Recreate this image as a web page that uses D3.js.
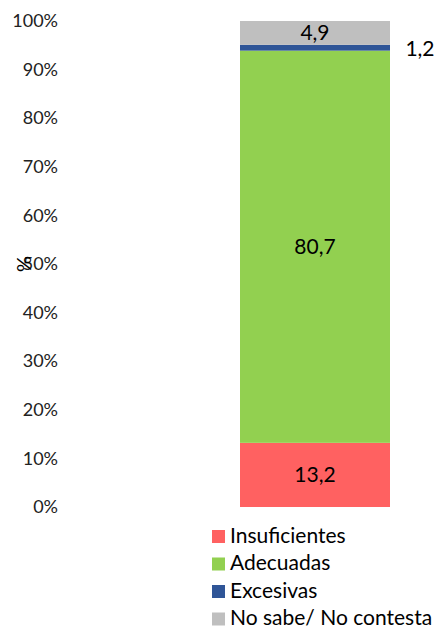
<!DOCTYPE html>
<html lang="en">
    <head>
        <meta charset="utf-8">
        <title>Stacked bar</title>
        <script src="https://d3js.org/d3.v7.min.js"></script>
        <style type="text/css">
            body { margin: 0; background: white; }
            .axis text { font-family: Lato, sans-serif; font-size: 18px; fill: #222; }
            .lbl { font-family: Lato, sans-serif; font-size: 21px; fill: black; }
            .legend text { font-family: Lato, sans-serif; font-size: 21px; fill: black; }
        </style>
    </head>
    <body>
        <script type="text/javascript">

            const w = 443;
            const h = 631;

            // data
            const categories = ["Insuficientes", "Adecuadas", "Excesivas", "No sabe/ No contesta"];
            const values = [13.2, 80.7, 1.2, 4.9];
            const colors = ["#FF6161", "#92D050", "#2F5597", "#BFBFBF"];
            const yTicks = [0, 10, 20, 30, 40, 50, 60, 70, 80, 90, 100];

            const svg = d3.select("body")
                .append("svg")
                .attr("width", w)
                .attr("height", h);

            const yScale = d3.scaleLinear()
                .domain([0, 100])
                .range([507, 21]);

            // left axis, labels only
            const leftAxis = d3.axisLeft(yScale)
                .tickValues(yTicks)
                .tickSize(0)
                .tickPadding(0)
                .tickFormat(d => d + "%");

            svg.append("g")
                .attr("class", "axis")
                .attr("transform", "translate(58,0)")
                .call(leftAxis)
                .call(g => g.select(".domain").remove());

            // y title overlapping 50%
            svg.append("text")
                .attr("transform", "translate(24," + yScale(50) + ") rotate(-90)")
                .attr("text-anchor", "middle")
                .attr("dy", "0.35em")
                .style("font-family", "Lato, sans-serif")
                .style("font-size", "20px")
                .text("%");

            // stacked segments
            let cum = 0;
            const segs = values.map((v, i) => {
                const s = { name: categories[i], v: v, y0: cum, y1: cum + v, color: colors[i] };
                cum += v;
                return s;
            });

            const barX = 240, barW = 150;

            svg.selectAll(".seg")
                .data(segs)
                .join("rect")
                .attr("class", "seg")
                .attr("x", barX)
                .attr("width", barW)
                .attr("y", d => yScale(d.y1))
                .attr("height", d => yScale(d.y0) - yScale(d.y1))
                .attr("fill", d => d.color);

            const fmt = v => String(v).replace(".", ",");

            svg.selectAll(".lbl")
                .data(segs)
                .join("text")
                .attr("class", "lbl")
                .attr("text-anchor", "middle")
                .attr("dy", "0.35em")
                .attr("x", d => d.name === "Excesivas" ? 420 : barX + barW / 2)
                .attr("y", d => d.name === "Excesivas" ? yScale(d.y1) + 4 : yScale((d.y0 + d.y1) / 2))
                .text(d => fmt(d.v));

            // legend
            const legend = svg.append("g").attr("class", "legend");
            const rows = legend.selectAll("g")
                .data(categories)
                .join("g")
                .attr("transform", (d, i) => "translate(212," + (536 + i * 27.5) + ")");
            rows.append("rect")
                .attr("x", 0).attr("y", -6)
                .attr("width", 13).attr("height", 13)
                .attr("fill", (d, i) => colors[i]);
            rows.append("text")
                .attr("x", 18)
                .attr("dy", "0.33em")
                .text(d => d);

        </script>
    </body>
</html>
